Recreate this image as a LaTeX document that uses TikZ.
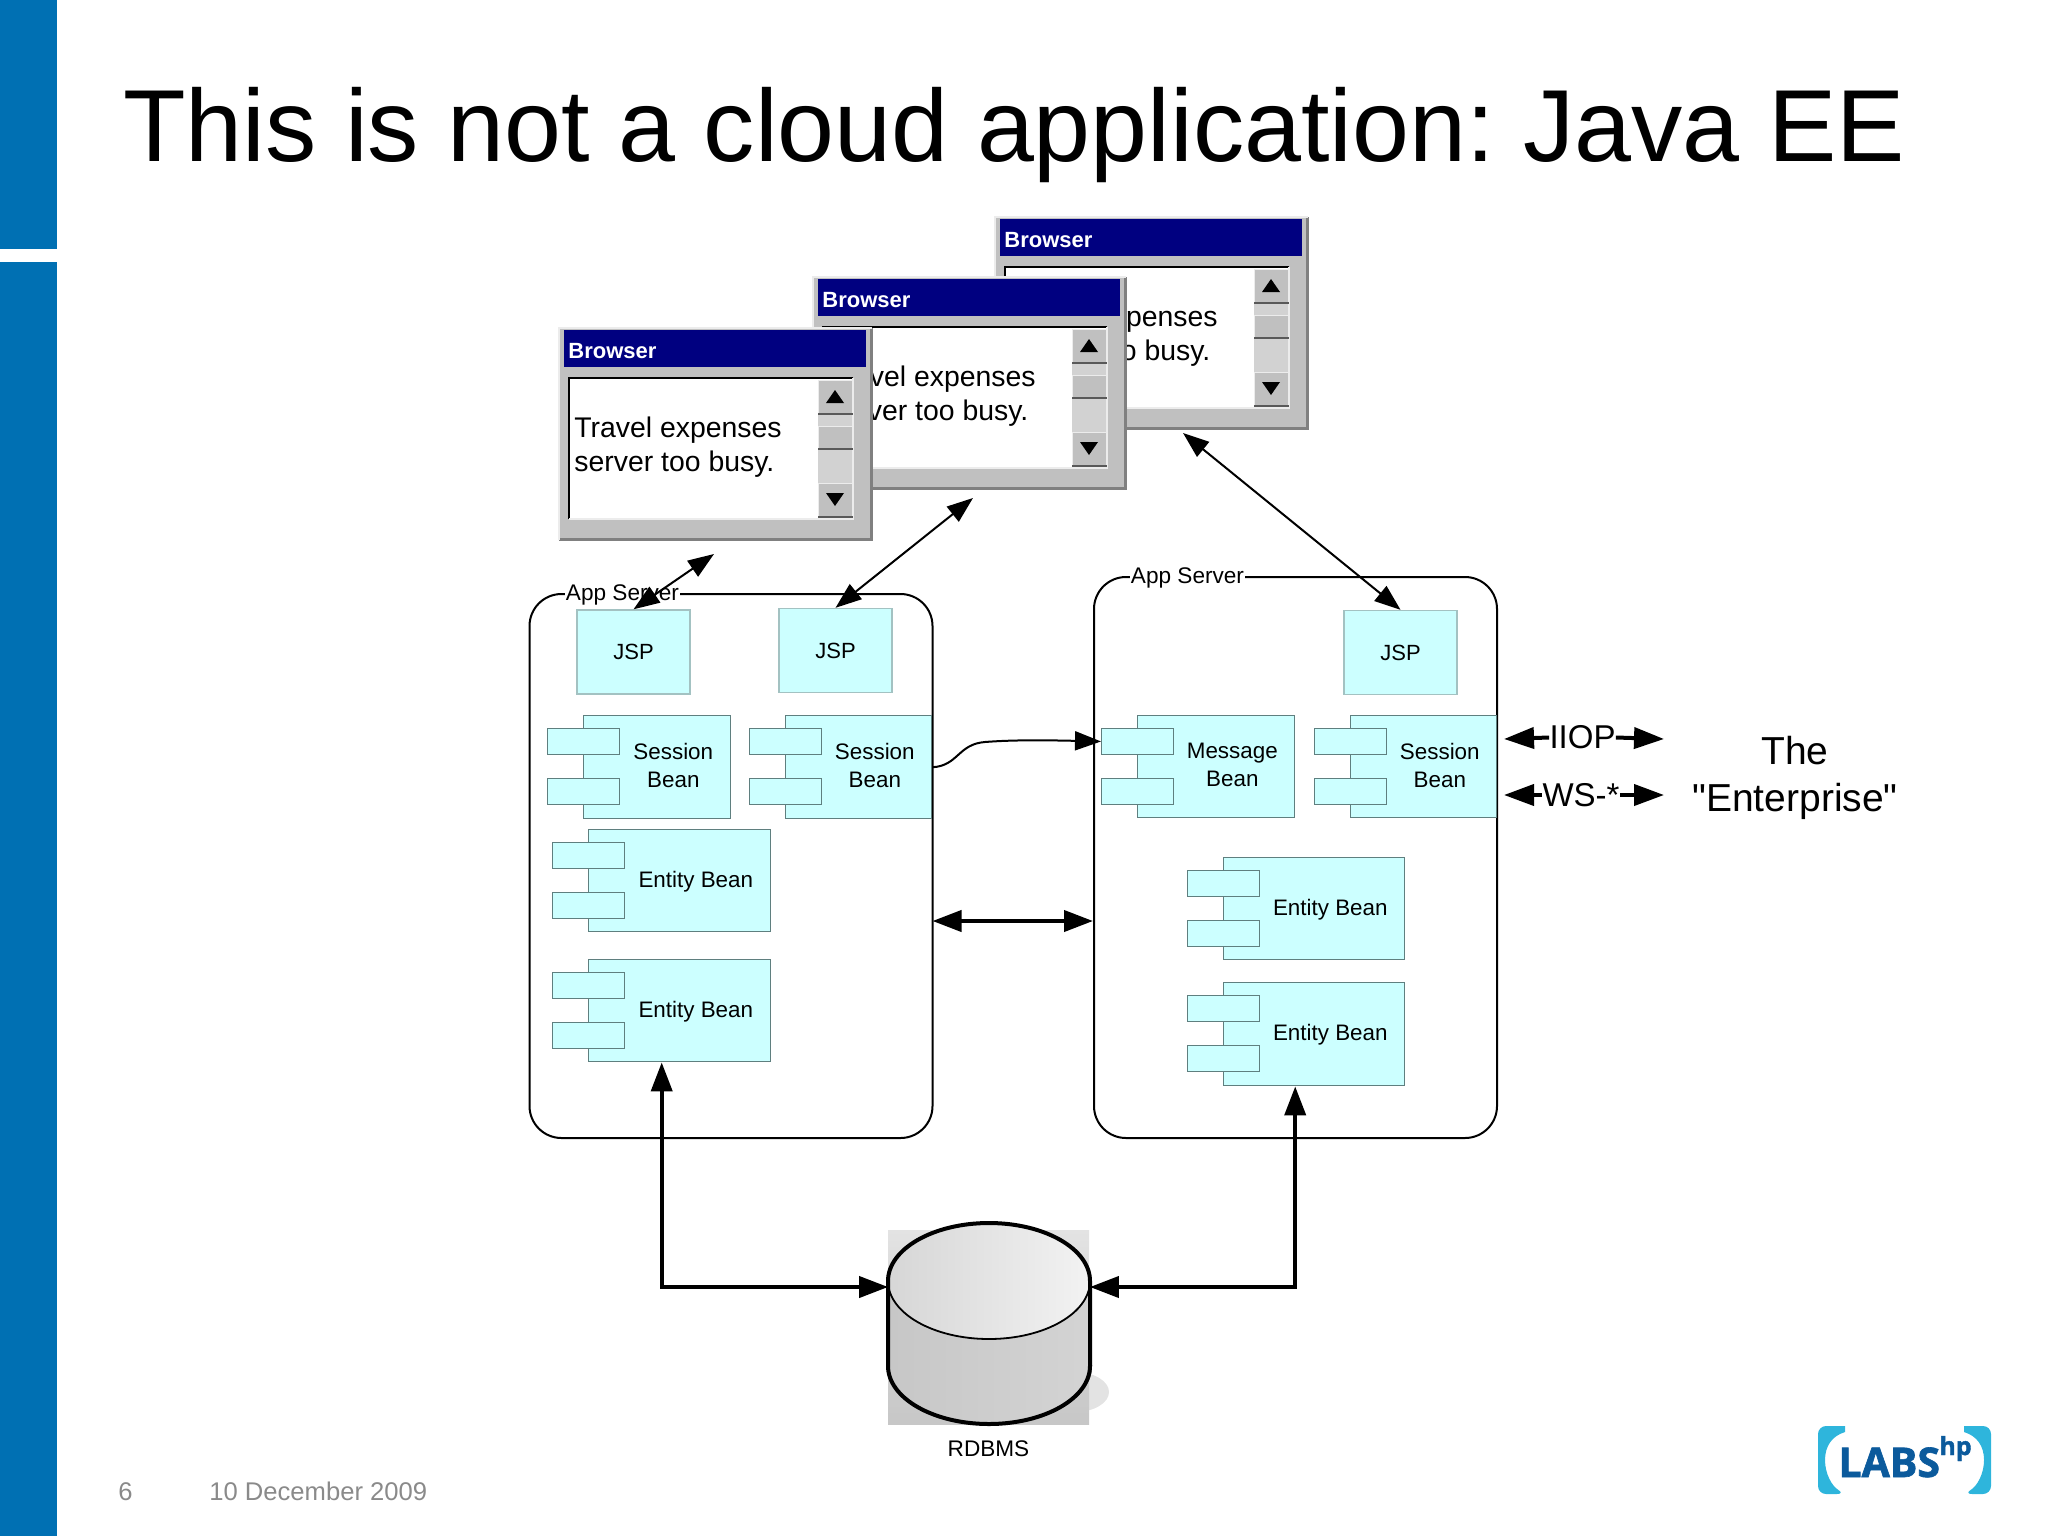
\documentclass[tikz,border=0pt]{standalone}
\usepackage{fontspec}
\setmainfont{Liberation Sans}
\newfontfamily\plainfont{Liberation Sans}
\newfontfamily\logofont[BoldFeatures={FakeBold=1.6}]{Open Sans}
\usetikzlibrary{arrows.meta,shapes.geometric,calc,positioning}
\definecolor{hpblue}{HTML}{0070B3}
\definecolor{logocyan}{HTML}{2EB5DC}
\definecolor{logoblue}{HTML}{0B5A9C}
\definecolor{beanfill}{HTML}{CCFFFF}
\definecolor{beanline}{HTML}{5F7F7F}
\definecolor{jspline}{HTML}{A3C2C2}
\definecolor{wingray}{HTML}{C0C0C0}
\definecolor{wintrack}{HTML}{D2D2D2}
\definecolor{winnavy}{HTML}{000080}
\definecolor{footgray}{HTML}{8A8A8A}
\tikzstyle{edge}    =[{Triangle[length=13pt,width=9.5pt]}-{Triangle[length=13pt,width=9.5pt]},
                      line width=1pt]
\tikzstyle{bigedge} =[{Triangle[length=14.5pt,width=10.5pt]}-{Triangle[length=14.5pt,width=10.5pt]},
                      line width=2pt]
\tikzstyle{server}  =[rectangle, draw, rounded corners=16pt, line width=1pt,
                      inner sep=0pt]
\tikzstyle{srvlabel}=[fill=white, inner sep=0.5pt, font=\fontsize{11.3}{13}\selectfont]
\tikzstyle{jsp}     =[rectangle, draw=jspline, fill=beanfill, line width=0.7pt,
                      minimum width=56.5pt, minimum height=42pt, inner sep=0pt,
                      font=\fontsize{11}{13}\selectfont]
\tikzstyle{bean}    =[rectangle, draw=beanline, fill=beanfill, line width=0.7pt,
                      anchor=north west, inner sep=0pt]
\tikzstyle{beantab} =[bean, minimum width=36pt, minimum height=12.75pt]
\tikzstyle{beantext}=[inner sep=0pt, align=center, xshift=-1.3pt,
                      font=\fontsize{11.2}{14}\selectfont]
\tikzstyle{winpart} =[rectangle, anchor=north west, inner sep=0pt]
\tikzstyle{winbtn}  =[winpart, fill=wingray, draw=white!85!gray, line width=0.5pt,
                      minimum width=17pt]
\tikzstyle{bigtext} =[inner sep=0pt, font=\fontsize{16.5}{19}\selectfont]
\tikzstyle{dbline}  =[line width=2pt]
\tikzstyle{foot}    =[anchor=base west, inner sep=0pt, text=footgray,
                      font=\fontsize{12.8}{15}\selectfont]

% component box: text position tweak, name, left, top, width, height, text
\newcommand{\beanbox}[7][]{
  \node (#2) [bean, minimum width=#5*0.5pt, minimum height=#6*0.5pt] at (#3,#4){};
  \node (#2a) [beantab] at ([shift={(-36,13)}]#2.north west){};
  \node (#2b) [beantab] at ([shift={(-36,63)}]#2.north west){};
  \node (#2t) [beantext,#1] at ($(#2a.east |- #2.center)!0.5!(#2.east)$){#7};
}

% browser window: name, x shift, y shift
\newcommand{\browserwin}[3]{
\begin{scope}[shift={(#2,#3)}]
  \node (#1) [winpart, fill=wingray, minimum width=156pt, minimum height=105.5pt] at (559,328){};
  \draw [gray, line width=1.5pt] (#1.north east) -- (#1.south east) -- (#1.south west);
  \draw [white!85!gray, line width=1pt] (#1.south west) -- (#1.north west) -- (#1.north east);
  \node (#1t) [winpart, fill=winnavy, minimum width=151pt, minimum height=18.5pt] at (564,330){};
  \node (#1l) [anchor=base west, inner sep=0pt, text=white,
               font=\fontsize{11}{13}\selectfont\bfseries] at (568,358){Browser};
  \node (#1w) [winpart, fill=white, minimum width=141.5pt, minimum height=70pt] at (569,378){};
  \node (#1x) [anchor=north west, inner sep=0pt, align=left,
               font=\fontsize{14.2}{17}\selectfont] at (574,417){Travel expenses\\server too busy.};
  \draw [line width=1pt] (#1w.south west) -- (#1w.north west) -- (#1w.north east);
  \draw [white!85!gray, line width=1pt] (#1w.north east) -- (#1w.south east) -- (#1w.south west);
  \node (#1s) [winpart, fill=wintrack, minimum width=17pt, minimum height=68.5pt] at (818,380){};
  \node (#1u) [winbtn, minimum height=16.5pt] at (818,380){};
  \node (#1m) [winbtn, minimum height=11pt]   at (818,426){};
  \node (#1d) [winbtn, minimum height=16.5pt] at (818,483){};
  \draw [gray!70!black, line width=1pt] (#1u.south west) -- (#1u.south east);
  \draw [gray!70!black, line width=1pt] (#1m.south west) -- (#1m.south east);
  \draw [gray!70!black, line width=1pt] (#1d.south west) -- (#1d.south east);
  \fill (826,403) -- (835,390) -- (844,403) -- cycle;
  \fill (826,493) -- (835,506) -- (844,493) -- cycle;
\end{scope}
}

\begin{document}
\begin{tikzpicture}[x=0.5pt,y=-0.5pt]
\useasboundingbox (0,0) rectangle (2048,1536);

% slide frame
\fill [hpblue] (0,0) rectangle (57,249);
\fill [hpblue] (0,262) rectangle (57,1536);
\node (title) [anchor=base west, inner sep=0pt, font=\fontsize{51.2}{60}\selectfont\frenchspacing]
      at (123,162) {This is not a cloud application: Java EE};
\node (page) [foot] at (118,1500) {6};
\node (date) [foot] at (209,1500) {10 December 2009};

% browsers, back to front
\browserwin{brc}{436}{-111}
\browserwin{brb}{254}{-51}
\browserwin{bra}{0}{0}

% app servers
\node (sa) [server, minimum width=201.5pt, minimum height=272pt]   at (731,866){};
\node (sb) [server, minimum width=201.5pt, minimum height=280.5pt] at (1295.5,857.5){};
\node (sal) [srvlabel] at (622.5,595) {App Server};
\node (sbl) [srvlabel] at (1187.5,578) {App Server};

\node (ja) [jsp] at (633.5,652){JSP};
\node (jb) [jsp] at (835.5,650.5){JSP};
\node (jc) [jsp] at (1400.5,652.5){JSP};

\beanbox[yshift=0.75pt]{sessa}{583}{715}{147}{103}{Session\\Bean}
\beanbox[yshift=0.75pt]{sessb}{785}{715}{146}{103}{Session\\Bean}
\beanbox[yshift=-0.5pt]{enta}{588}{829}{182}{102}{Entity Bean}
\beanbox[yshift=-0.5pt]{entb}{588}{959}{182}{102}{Entity Bean}
\beanbox[yshift=0.75pt]{msg}{1137}{715}{157}{102}{Message\\Bean}
\beanbox[yshift=0.75pt]{sessc}{1350}{715}{146}{102}{Session\\Bean}
\beanbox[yshift=-0.5pt]{entc}{1223}{857}{181}{102}{Entity Bean}
\beanbox{entd}{1223}{982}{181}{103}{Entity Bean}

% database
\fill [black!11] (1075,1392) ellipse [x radius=17pt, y radius=10pt];
\node (dbbg) [rectangle, top color=black!11, bottom color=black!22, inner sep=0pt,
              minimum width=100.5pt, minimum height=97pt] at (988.5,1327){};
\fill [left color=black!22, middle color=black!12, right color=black!17]
      (888,1283) -- (888,1366) arc [start angle=180, end angle=360, x radius=51pt, y radius=29pt]
      -- (1090,1283) -- cycle;
\node (db) [ellipse, draw, line width=0.9pt, left color=black!16, right color=black!5,
            minimum width=101pt, minimum height=58pt, inner sep=0pt] at (989,1281){};
\draw [dbline] (888,1281) arc [start angle=180, end angle=0, x radius=50.5pt, y radius=29pt]
      -- (1090,1366) arc [start angle=0, end angle=-180, x radius=50.5pt, y radius=29pt] -- cycle;
\node (dbl) [below=7.7pt of dbbg, inner sep=0pt, font=\fontsize{11.3}{13}\selectfont] {RDBMS};

% connectors
\coordinate (braport) at (714,554);
\coordinate (brbport) at (973,498);
\coordinate (brcport) at (1183,433);
\draw [edge] (braport) -- (ja.north);
\draw [edge] (brbport) -- (jb.north);
\draw [edge] (brcport) -- (jc.north);

\draw [line width=1pt, -{Triangle[length=13pt,width=9.5pt]}]
      (sessb.east) .. controls (958,766) and (958,744) .. (985,742)
      .. controls (1010,740) and (1040,740) .. (msga.west);
\draw [bigedge] ([yshift=-27.5pt,xshift=-0.5pt]sa.east) -- ([yshift=-31.75pt]sb.west);
\draw [bigedge] ([xshift=-9pt]entb.south) |- ([yshift=-3pt,xshift=0.5pt]db.west);
\draw [bigedge] ([xshift=-9.5pt]entd.south) |- ([yshift=-3pt,xshift=-0.5pt]db.east);

% protocols
\node (iiop) [bigtext] at (1582.5,737.5) {IIOP};
\node (ws)   [bigtext] at (1581,795) {WS-*};
\coordinate (iiopl) at (1504,739);
\coordinate (iiopr) at (1664,739);
\coordinate (wsl)   at (1504,795);
\coordinate (wsr)   at (1664,795);
\draw [line width=2pt, -{Triangle[length=15pt,width=10.5pt]}] (iiop.west) -- (iiopl);
\draw [line width=2pt, -{Triangle[length=15pt,width=10.5pt]}] (iiop.east) -- (iiopr);
\draw [line width=2pt, -{Triangle[length=15pt,width=10.5pt]}] (ws.west) -- (wsl);
\draw [line width=2pt, -{Triangle[length=15pt,width=10.5pt]}] (ws.east) -- (wsr);
\node (ent) [align=center, inner sep=0pt, font=\plainfont\fontsize{19.5}{23.5}\selectfont]
      at (1795,778) {The\\"Enterprise"};

% logo
\fill [logocyan, rounded corners=4pt] (1845,1426) -- (1818,1426) -- (1818,1494) -- (1845,1494)
      [sharp corners] .. controls (1832,1486) and (1825,1474) .. (1825,1460)
      .. controls (1825,1446) and (1832,1436) .. (1845,1432) -- cycle;
\fill [logocyan, rounded corners=4pt] (1964,1426) -- (1991,1426) -- (1991,1494) -- (1964,1494)
      [sharp corners] .. controls (1977,1486) and (1984,1474) .. (1984,1460)
      .. controls (1984,1446) and (1977,1436) .. (1964,1432) -- cycle;
\node (labs) [anchor=base west, inner sep=0pt, text=logoblue,
              font=\logofont\bfseries\fontsize{20.5}{24}\selectfont] at (1838,1477) {LABS};
\node (hp) [anchor=base west, inner sep=0pt, text=logoblue,
            font=\logofont\bfseries\fontsize{12.5}{15}\selectfont] at (1939,1455) {hp};
\end{tikzpicture}
\end{document}
